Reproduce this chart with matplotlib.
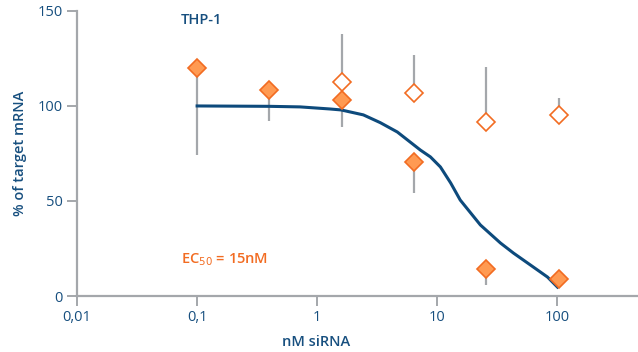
import matplotlib.pyplot as plt
from matplotlib.ticker import FixedLocator, FixedFormatter, NullLocator

plt.rcParams["font.family"] = ["Open Sans", "DejaVu Sans"]

# Data
conc = [0.1, 0.4, 1.6, 6.4, 25.6, 102.4]

filled_x = [0.1, 0.4, 1.6, 6.4, 25.6, 102.4]
filled_y = [120, 108.4, 103, 70.5, 14.2, 9]
filled_err_low = [46, 16.4, 14, 16.5, 8.4, 0]

open_x = [1.6, 6.4, 25.6, 102.4]
open_y = [112.6, 107, 91.5, 95]
open_err_high = [25.4, 20, 29, 9]

# fitted curve, points
curve_x = [0.1, 0.4, 0.72, 1.28, 1.58, 2.42, 3.35, 4.64, 7.22, 8.75, 10.6, 12.9,
           15.5, 22.8, 33.5, 43.0, 59.6, 82.5, 100.0]
curve_y = [100, 99.8, 99.5, 98.4, 97.9, 95.3, 91.2, 86.3, 76.8, 73.2, 67.9, 59.5,
           50.5, 37.4, 27.9, 22.6, 16.3, 10.0, 4.7]

xticks = [0.01, 0.1, 1, 10, 100]
xticklabels = ["0,01", "0,1", "1", "10", "100"]
yticks = [0, 50, 100, 150]

blue = "#174f7f"
orange = "#f26c22"
orange_face = "#ff9a52"
grey = "#a4a7ab"

fig = plt.figure(figsize=(6.38, 3.52), dpi=100)
ax = fig.add_axes([0.1207, 0.159, 0.8793, 0.81])

ax.plot(curve_x, curve_y, color="#0d4a7c", lw=2.2, zorder=3,
        solid_joinstyle="round")

# one-sided error bars
ax.errorbar(filled_x, filled_y, yerr=[filled_err_low, [0] * len(filled_x)],
            fmt="none", ecolor=grey, elinewidth=1.6, capsize=0, zorder=2)
ax.errorbar(open_x, open_y, yerr=[[0] * len(open_x), open_err_high],
            fmt="none", ecolor=grey, elinewidth=1.6, capsize=0, zorder=2)

ax.plot(filled_x, filled_y, ls="none", marker="D", ms=8.8, mfc=orange_face,
        mec=orange, mew=1.2, zorder=4)
ax.plot(open_x, open_y, ls="none", marker="D", ms=8.8, mfc="white",
        mec=orange, mew=1.2, zorder=4)

ax.set_xscale("log")
ax.set_xlim(0.01, 468)
ax.set_ylim(0, 150)
ax.xaxis.set_major_locator(FixedLocator(xticks))
ax.xaxis.set_major_formatter(FixedFormatter(xticklabels))
ax.xaxis.set_minor_locator(NullLocator())
ax.set_yticks(yticks)

for s in ["top", "right"]:
    ax.spines[s].set_visible(False)
for s in ["left", "bottom"]:
    ax.spines[s].set_color(grey)
    ax.spines[s].set_linewidth(1.6)
ax.tick_params(axis="both", direction="out", length=7, width=1.4, color=grey,
               labelcolor=blue, labelsize=10.5, pad=3)

ax.set_ylabel("% of target mRNA", color=blue, fontsize=10.5, fontweight="semibold",
              labelpad=8)
ax.set_xlabel("nM siRNA", color=blue, fontsize=10.5, fontweight="semibold",
              labelpad=4)
ax.xaxis.set_label_coords(0.426, -0.135)

ax.text(0.185, 0.968, "THP-1", transform=ax.transAxes, color=blue, fontsize=10.5,
        fontweight="semibold", va="center", ha="left")
ax.text(0.185, 0.126, r"EC$_{50}$ = 15nM", transform=ax.transAxes, color=orange,
        fontsize=10.5, fontweight="semibold", va="center", ha="left")

fig.savefig("out.png", dpi=100)
